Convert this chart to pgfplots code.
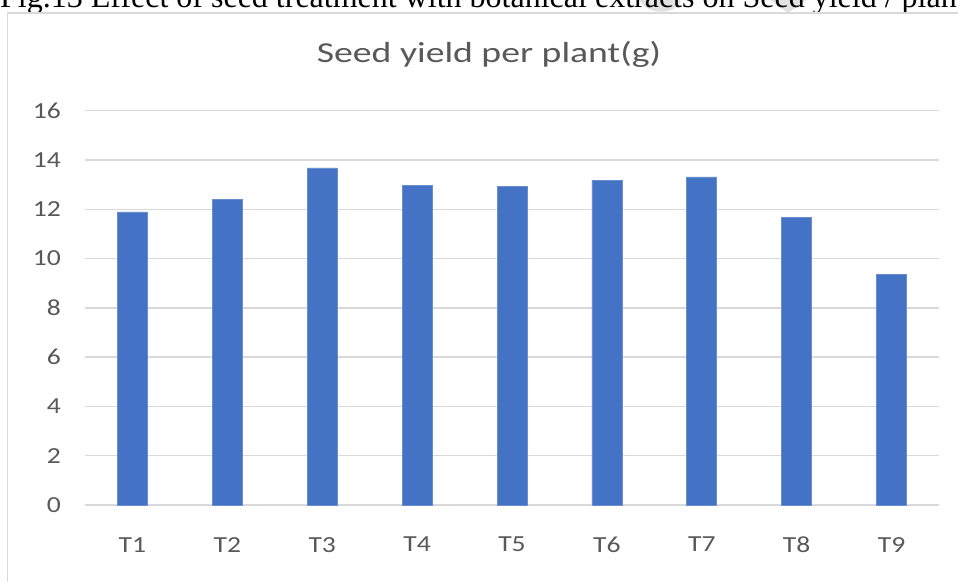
\documentclass[border=0pt]{standalone}
\usepackage{pgfplots}
\pgfplotsset{compat=1.18}
\usepackage{fontspec}
\setmainfont{Carlito}
\newfontfamily\capfont{Liberation Serif}
\newfontfamily\titlefont[FakeStretch=1.3]{Carlito}
\newfontfamily\tickfont[FakeStretch=1.2]{Carlito}
\definecolor{barc}{HTML}{4472C4}
\definecolor{gridc}{HTML}{D9D9D9}
\definecolor{txtc}{HTML}{595959}
\definecolor{wmc}{HTML}{E2E2E2}
\begin{document}
\begin{tikzpicture}
\path[use as bounding box, fill=white] (0pt,0pt) rectangle (958pt,581pt);
\begin{scope}
\clip (0pt,0pt) rectangle (958pt,581pt);
\fill[wmc] (638pt,585pt) .. controls (640pt,570pt) and (668pt,562pt) .. (680pt,578pt) -- (680pt,585pt) -- cycle;
\fill[wmc] (770pt,581pt) -- (806pt,581pt) -- (788pt,568pt) -- cycle;
\node[anchor=base west, inner sep=0, font=\capfont\fontsize{32}{36}\selectfont] at (0pt,573pt) {Fig.13 Effect of seed treatment with botanical extracts on Seed yield / plant};
\draw[gridc, line width=1.5pt] (7.5pt,-5pt) -- (7.5pt,568pt) -- (970pt,568pt);
\end{scope}
\node[anchor=base, inner sep=0, text=txtc, font=\titlefont\fontsize{29}{34}\selectfont] at (489pt,518pt) {Seed yield per plant(g)};
\begin{axis}[
  at={(85pt,76pt)}, anchor=south west,
  scale only axis, width=854pt, height=394.3pt,
  xmin=-0.5, xmax=8.5, ymin=0, ymax=16,
  ytick={0,2,...,16},
  xtick={0,...,8},
  xticklabels={T1,T2,T3,T4,T5,T6,T7,T8,T9},
  ymajorgrids, grid style={gridc, line width=1.5pt},
  axis line style={draw=none},
  major tick length=0pt,
  tick label style={text=txtc, font=\tickfont\fontsize{23}{26}\selectfont},
  /pgf/number format/assume math mode=true,
  yticklabel style={anchor=east, inner sep=0pt, xshift=-24pt},
  xticklabel style={anchor=north, inner sep=0pt, yshift=-32pt},
  ybar, bar width=30pt,
]
\addplot[fill=barc, draw=barc!80!white, line width=0.6pt] coordinates {
(0,11.89) (1,12.40) (2,13.68) (3,12.97) (4,12.93) (5,13.18) (6,13.31) (7,11.66) (8,9.37)};
\end{axis}
\end{tikzpicture}
\end{document}
